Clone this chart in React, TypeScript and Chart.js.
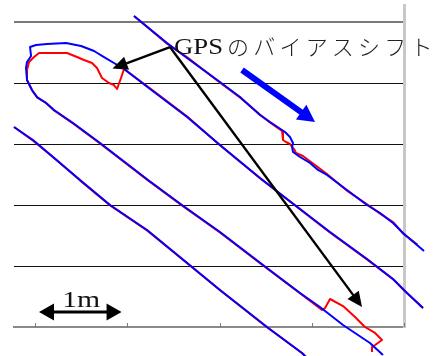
import React, { useEffect, useRef } from "react";
import { Chart, registerables } from "chart.js";

Chart.register(...registerables);

// ---- axes ----
const xTicks = [0, 1, 2, 3, 4]; // metres
const yTicks = [0, 1, 2, 3, 4, 5]; // grid rows
const X_MIN = -0.228;
const X_MAX = 4;
const Y_MIN = 0;
const Y_MAX = 5.279;

// ---- trajectories [x (m), y (grid units)] ----
const blueA: [number, number][] = [
  [1.073, 5.098], [1.431, 4.656], [1.648, 4.41], [2.005, 4.016], [2.222, 3.77], [2.439, 3.475],
  [2.547, 3.361], [2.71, 3.197], [2.764, 3.115], [2.797, 3.016], [2.786, 2.951], [2.797, 2.869],
  [2.873, 2.787], [2.981, 2.689], [3.068, 2.574], [3.165, 2.492], [3.382, 2.246], [3.599, 2.0],
  [3.74, 1.869], [3.881, 1.705], [3.989, 1.541], [4.141, 1.344], [4.217, 1.246],
];
const redA: [number, number][] = [
  [1.073, 5.098], [1.435, 4.64], [1.65, 4.42], [2.01, 4.0], [2.225, 3.76], [2.44, 3.48],
  [2.55, 3.35], [2.678, 3.213], [2.688, 3.131], [2.688, 3.066], [2.721, 3.033], [2.764, 3.0],
  [2.808, 2.918], [2.829, 2.852], [2.905, 2.803], [2.992, 2.705], [3.079, 2.607], [3.165, 2.508],
  [3.385, 2.23], [3.6, 2.01], [3.745, 1.855], [3.885, 1.715], [3.995, 1.525], [4.145, 1.35], [4.217, 1.246],
];
const blueB: [number, number][] = [
  [3.772, -0.459], [3.631, -0.262], [3.339, 0.033], [3.089, 0.328], [2.873, 0.557], [2.472, 1.016],
  [2.005, 1.557], [1.593, 2.0], [1.225, 2.41], [0.705, 3.016], [0.412, 3.344], [0.206, 3.557],
  [0.119, 3.672], [0.022, 3.77], [-0.033, 3.885], [-0.087, 4.049], [-0.098, 4.246], [-0.087, 4.344],
  [-0.043, 4.443], [-0.054, 4.59], [0.011, 4.623], [0.13, 4.639], [0.336, 4.656], [0.499, 4.607],
  [0.64, 4.525], [0.748, 4.426], [0.856, 4.328], [0.965, 4.23], [1.247, 3.902], [1.648, 3.443],
  [2.005, 2.984], [2.439, 2.443], [2.732, 2.098], [3.198, 1.557], [3.599, 1.115], [3.881, 0.787],
  [4.011, 0.59], [4.206, 0.311],
];
const redB: [number, number][] = [
  [3.653, -0.41], [3.653, -0.328], [3.686, -0.295], [3.762, -0.213], [3.686, -0.098], [3.577, 0.0],
  [3.469, 0.164], [3.339, 0.344], [3.198, 0.459], [3.144, 0.311], [3.111, 0.279], [2.875, 0.55],
  [2.475, 1.005], [2.008, 1.545], [1.595, 1.99], [1.228, 2.4], [0.708, 3.005], [0.415, 3.333],
  [0.21, 3.545], [0.115, 3.68], [0.025, 3.76], [-0.03, 3.875], [-0.084, 4.04], [-0.087, 4.213],
  [-0.065, 4.344], [-0.011, 4.426], [0.043, 4.492], [0.173, 4.492], [0.347, 4.492], [0.455, 4.426],
  [0.531, 4.377], [0.618, 4.328], [0.672, 4.246], [0.726, 4.082], [0.802, 4.0], [0.856, 3.967],
  [0.889, 3.902], [0.932, 4.082], [0.965, 4.23], [1.25, 3.91], [1.65, 3.45], [2.008, 2.975],
  [2.442, 2.435], [2.735, 2.09], [3.2, 1.545], [3.602, 1.105], [3.884, 0.78], [4.014, 0.58], [4.206, 0.311],
];
const blueC: [number, number][] = [
  [-0.228, 3.279], [-0.022, 3.066], [0.195, 2.787], [0.488, 2.41], [0.813, 2.0], [1.214, 1.59],
  [1.702, 0.984], [2.005, 0.607], [2.515, 0.0], [2.894, -0.426], [2.938, -0.492],
];
const redC: [number, number][] = [
  [-0.228, 3.279], [-0.018, 3.05], [0.2, 2.78], [0.49, 2.4], [0.818, 1.99], [1.218, 1.58],
  [1.706, 0.975], [2.01, 0.6], [2.518, -0.008], [2.894, -0.426], [2.938, -0.492],
];

// ---- annotations (data units) ----
const gpsLabel = "GPS のバイアスシフト";
const gpsLabelPos = { x: 1.507, y: 4.475 };
const pointerFrom = { x: 1.463, y: 4.59 };
const pointerTips = [
  { x: 0.84, y: 4.238 },
  { x: 3.545, y: 0.328 },
];
const motionFrom = { x: 2.244, y: 4.213 };
const motionTo = { x: 3.035, y: 3.361 };
const scaleLabel = "1m";
const scaleBar = { x0: 0.043, x1: 0.938, y: 0.246 };
const scaleLabelPos = { x: 0.5, y: 0.328 };

const BLUE = "#0000ff";
const RED = "#ff0000";

function toPts(a: [number, number][]) {
  return a.map(([x, y]) => ({ x, y }));
}

function arrow(
  ctx: CanvasRenderingContext2D,
  x1: number, y1: number, x2: number, y2: number,
  width: number, headLen: number, headHalf: number, color: string, both = false
) {
  const dx = x2 - x1, dy = y2 - y1;
  const L = Math.hypot(dx, dy);
  const ux = dx / L, uy = dy / L;
  const sx = both ? x1 + ux * headLen * 0.9 : x1;
  const sy = both ? y1 + uy * headLen * 0.9 : y1;
  const ex = x2 - ux * headLen * 0.9, ey = y2 - uy * headLen * 0.9;
  ctx.save();
  ctx.strokeStyle = color;
  ctx.fillStyle = color;
  ctx.lineWidth = width;
  ctx.lineCap = "butt";
  ctx.beginPath();
  ctx.moveTo(sx, sy);
  ctx.lineTo(ex, ey);
  ctx.stroke();
  const head = (tx: number, ty: number, vx: number, vy: number) => {
    const bx = tx - vx * headLen, by = ty - vy * headLen;
    ctx.beginPath();
    ctx.moveTo(tx, ty);
    ctx.lineTo(bx - vy * headHalf, by + vx * headHalf);
    ctx.lineTo(bx + vy * headHalf, by - vx * headHalf);
    ctx.closePath();
    ctx.fill();
  };
  head(x2, y2, ux, uy);
  if (both) head(x1, y1, -ux, -uy);
  ctx.restore();
}

function stretchedText(ctx: CanvasRenderingContext2D, text: string, x: number, y: number, font: string, targetW: number) {
  ctx.save();
  ctx.font = font;
  const w = ctx.measureText(text).width;
  ctx.translate(x, y);
  ctx.scale(targetW / w, 1);
  ctx.textAlign = "left";
  ctx.textBaseline = "alphabetic";
  ctx.fillText(text, 0, 0);
  ctx.restore();
}

const annotationPlugin = {
  id: "annotations",
  afterDraw(chart: any) {
    const ctx: CanvasRenderingContext2D = chart.ctx;
    const xs = chart.scales.x;
    const ys = chart.scales.y;
    const px = (v: number) => xs.getPixelForValue(v);
    const py = (v: number) => ys.getPixelForValue(v);
    const area = chart.chartArea;

    // inward tick marks on the bottom axis
    ctx.save();
    ctx.strokeStyle = "#7a7a7a";
    ctx.lineWidth = 1;
    xTicks.forEach((t) => {
      const x = Math.round(px(t)) + 0.5;
      ctx.beginPath();
      ctx.moveTo(x, area.bottom - 4);
      ctx.lineTo(x, area.bottom);
      ctx.stroke();
    });
    ctx.restore();

    // motion arrow
    arrow(ctx, px(motionFrom.x), py(motionFrom.y), px(motionTo.x), py(motionTo.y), 6, 17, 9, BLUE);

    // pointer arrows
    pointerTips.forEach((t) => {
      arrow(ctx, px(pointerFrom.x), py(pointerFrom.y), px(t.x), py(t.y), 2.4, 15, 7, "#000");
    });

    // scale bar
    arrow(ctx, px(scaleBar.x0), py(scaleBar.y), px(scaleBar.x1), py(scaleBar.y), 3, 15, 8.5, "#000", true);

    ctx.fillStyle = "#111";
    // "1m"
    const sX = px(scaleLabelPos.x), sY = py(scaleLabelPos.y);
    stretchedText(ctx, scaleLabel, sX - 19, sY, "24px 'Liberation Serif'", 38);

    // GPS label
    const [latin, jp] = gpsLabel.split(" ");
    const gX = px(gpsLabelPos.x), gY = py(gpsLabelPos.y);
    stretchedText(ctx, latin, gX, gY, "23px 'Liberation Serif'", 49);
    ctx.save();
    ctx.font = "300 22px 'Noto Sans CJK JP'";
    (ctx as any).letterSpacing = "4.2px";
    ctx.fillStyle = "#222";
    ctx.textBaseline = "alphabetic";
    ctx.fillText(jp, gX + 53, gY + 1);
    ctx.restore();
  },
};

export default function App() {
  const ref = useRef<HTMLCanvasElement | null>(null);

  useEffect(() => {
    if (!ref.current) return;
    const line = (d: [number, number][], color: string) => ({
      data: toPts(d),
      borderColor: color,
      backgroundColor: color,
      borderWidth: 2,
      pointRadius: 0,
      showLine: true,
      fill: false,
      tension: 0,
      clip: false as any,
      borderJoinStyle: "round" as const,
    });
    const chart = new Chart(ref.current, {
      type: "scatter",
      data: {
        datasets: [
          line(blueA, BLUE),
          line(blueB, BLUE),
          line(blueC, BLUE),
          line(redA, RED),
          line(redB, RED),
          line(redC, RED),
        ],
      },
      options: {
        animation: false,
        responsive: false,
        maintainAspectRatio: false,
        layout: { padding: { left: 14, right: 39, top: 5, bottom: 29 } },
        plugins: { legend: { display: false }, tooltip: { enabled: false }, title: { display: false } },
        events: [],
        scales: {
          x: {
            type: "linear",
            position: "bottom",
            min: X_MIN,
            max: X_MAX,
            afterBuildTicks: (s: any) => {
              s.ticks = xTicks.map((v) => ({ value: v }));
            },
            afterFit: (s: any) => {
              s.height = 0;
            },
            ticks: { display: false },
            grid: { drawOnChartArea: false, drawTicks: false },
            border: { display: true, color: "#8a8a8a", width: 2 },
          },
          y: {
            type: "linear",
            position: "right",
            min: Y_MIN,
            max: Y_MAX,
            afterBuildTicks: (s: any) => {
              s.ticks = yTicks.map((v) => ({ value: v }));
            },
            afterFit: (s: any) => {
              s.width = 0;
            },
            ticks: { display: false },
            grid: {
              drawTicks: false,
              color: (c: any) => (c.tick && (c.tick.value === 0 || c.tick.value === 5) ? "#7a7a7a" : "#111"),
              lineWidth: (c: any) => (c.tick && (c.tick.value === 0 || c.tick.value === 5) ? 2 : 1),
            },
            border: { display: true, color: "#c8c8c8", width: 3 },
          },
        },
      },
      plugins: [annotationPlugin],
    });
    return () => chart.destroy();
  }, []);

  return (
    <div style={{ position: "fixed", left: 0, top: 0, width: 443, height: 356, background: "#fff" }}>
      <canvas ref={ref} width={443} height={356} style={{ display: "block" }} />
    </div>
  );
}
